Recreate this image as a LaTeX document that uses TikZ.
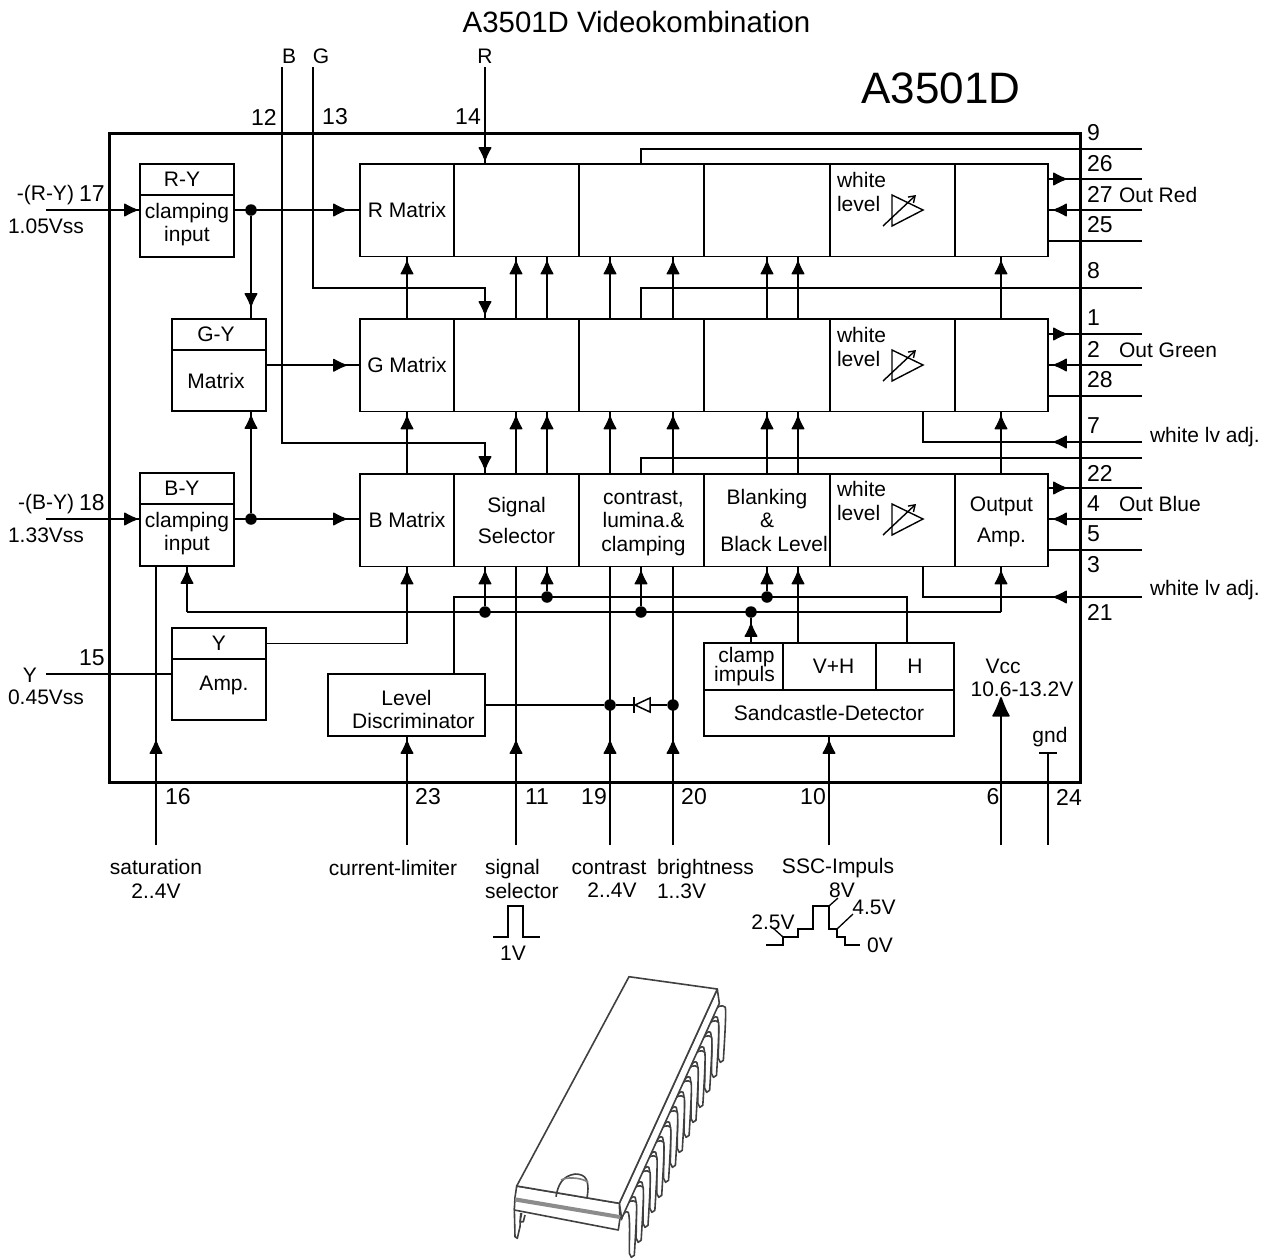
\documentclass[tikz,border=0pt]{standalone}
\usepackage{fontspec}
\setmainfont{Liberation Sans}
\usetikzlibrary{arrows.meta,decorations.markings}
\newcommand{\lab}{\fontsize{21}{23.5}\selectfont}
\tikzset{
    sig/.style={line width=1.8pt},
    flow/.style={postaction={decorate,decoration={markings,mark=at position #1 with {\arrow{Latex[round,length=15pt,width=14pt,line width=1pt]}}}}},
    cell/.style={draw,line width=1.8pt,anchor=north west,inner sep=0pt,outer sep=0pt,minimum height=92.5pt,align=center,font=\lab},
    lbl/.style={inner sep=0pt,outer sep=0pt,align=center,font=\lab},
    pinno/.style={inner sep=0pt,outer sep=0pt,font=\fontsize{23}{25}\selectfont},
    dot/.style={circle,fill=black,inner sep=0pt,minimum size=11.5pt},
    wave/.style={line width=1.7pt},
    chip/.style={line width=1.6pt,draw=black!75,line join=round}
}
\begin{document}
\begin{tikzpicture}[x=1pt,y=-1pt]
        \useasboundingbox (0,0) rectangle (1269,1259);

        % Title
        \node[lbl,font=\fontsize{29.4}{32}\selectfont] (title) at (636.5,22) {A3501D Videokombination};
        \node[lbl,font=\fontsize{44}{48}\selectfont] (icname) at (941,88) {A3501D};

        % IC outline
        \node[draw,line width=3pt,anchor=north west,inner sep=0pt,outer sep=0pt,minimum width=971pt,minimum height=649pt] (ic) at (109,133) {};

        % Matrix rows
        \foreach \row/\letter/\ty in {r/R/164,g/G/319} {
            \node[cell,minimum width=94pt] (\row mat) at (360,\ty) {\letter{} Matrix};
            \node[cell,minimum width=125pt] (\row sel) at (\row mat.north east) {};
            \node[cell,minimum width=125pt] (\row con) at (\row sel.north east) {};
            \node[cell,minimum width=126pt] (\row bla) at (\row con.north east) {};
            \node[cell,minimum width=125pt] (\row wht) at (\row bla.north east) {};
            \node[cell,minimum width=93pt] (\row out) at (\row wht.north east) {};
        }
        \node[cell,minimum width=94pt] (bmat) at (360,474) {B Matrix};
        \node[cell,minimum width=125pt] (bsel) at (bmat.north east) {Signal\\[7pt]Selector};
        \node[cell,minimum width=125pt,text height=66pt] (bcon) at (bsel.north east) {\hspace*{4pt}contrast,\\\hspace*{4pt}lumina.\&\\\hspace*{4pt}clamping};
        \node[cell,minimum width=126pt] (bbla) at (bcon.north east) {Blanking\\\&\\\hspace*{14pt}Black Level};
        \node[cell,minimum width=125pt] (bwht) at (bbla.north east) {};
        \node[cell,minimum width=93pt,text height=49pt] (bout) at (bwht.north east) {Output\\[8pt]Amp.};

        \node[lbl,anchor=west,align=left] (rwlab) at (837,192) {white\\level};
        \node[lbl,anchor=west,align=left] (gwlab) at (837,347) {white\\level};
        \node[lbl,anchor=west,align=left] (bwlab) at (837,501) {white\\level};

        % White level amplifiers
        \foreach \dy in {0,155,309} {
            \draw[line width=1.4pt,shift={(0,\dy)}] (892,195) -- (923,210) -- (892,226) -- cycle;
            \draw[line width=1.4pt,shift={(0,\dy)},-{Straight Barb[length=6pt,width=8pt]}] (883,226) -- (916,195);
        }

        % Colour difference blocks
        \node[cell,minimum width=94pt,minimum height=31pt] (ryhead) at (140,164) {R-Y\hspace*{10pt}};
        \node[cell,minimum width=94pt,minimum height=62pt,text depth=7pt] (rybody) at (ryhead.south west) {clamping\\input};
        \node[cell,minimum width=94pt,minimum height=31pt] (gyhead) at (172,319) {G-Y\hspace*{6pt}};
        \node[cell,minimum width=94pt,minimum height=61pt] (gybody) at (gyhead.south west) {Matrix\hspace*{6pt}};
        \node[cell,minimum width=94pt,minimum height=31pt] (byhead) at (140,473) {B-Y\hspace*{10pt}};
        \node[cell,minimum width=94pt,minimum height=62pt,text depth=7pt] (bybody) at (byhead.south west) {clamping\\input};
        \node[cell,minimum width=94pt,minimum height=31pt] (yhead) at (172,628) {Y};
        \node[cell,minimum width=94pt,minimum height=61pt,text depth=12pt] (ybody) at (yhead.south west) {\hspace*{10pt}Amp.};

        % Lower blocks
        \node[cell,minimum width=157pt,minimum height=62pt,text height=48pt] (ldisc) at (328,674) {Level\\\hspace*{14pt}Discriminator};
        \node[cell,minimum width=79pt,minimum height=47pt] (clamp) at (704,643) {\hspace*{6pt}clamp\\[-5pt]\hspace*{2pt}impuls};
        \node[cell,minimum width=93pt,minimum height=47pt] (vh) at (clamp.north east) {\hspace*{8pt}V+H};
        \node[cell,minimum width=78pt,minimum height=47pt] (hblk) at (vh.north east) {H};
        \node[cell,minimum width=250pt,minimum height=46pt] (sand) at (clamp.south west) {Sandcastle-Detector};

        % Columns and bus points
        \foreach \cx in {407,516,547,610,673,767,798,1001} {
            \coordinate (c\cx) at (\cx,0);
        }
        \coordinate (busa) at (187,612);
        \coordinate (busb) at (1001,612);
        \coordinate (busc) at (454,597);
        \coordinate (busd) at (907,597);
        \node[dot] (d251r) at (251,210) {};
        \node[dot] (d251b) at (251,519) {};
        \node[dot] (d485) at (485,612) {};
        \node[dot] (d641) at (641,612) {};
        \node[dot] (d751) at (751,612) {};
        \node[dot] (d547) at (547,597) {};
        \node[dot] (d767) at (767,597) {};
        \node[dot] (d610) at (610,705) {};
        \node[dot] (d673) at (673,705) {};

        % Free pin ends
        \coordinate (pinr) at (485,67);
        \coordinate (ping) at (313,67);
        \coordinate (pinb) at (282,67);
        \coordinate (pin17) at (46,210);
        \coordinate (pin18) at (46,519);
        \coordinate (pin15) at (46,674);
        \coordinate (pin16) at (156,845);
        \coordinate (pin23) at (407,845);
        \coordinate (pin11) at (516,845);
        \coordinate (pin19) at (610,845);
        \coordinate (pin20) at (673,845);
        \coordinate (pin10) at (829,845);
        \coordinate (pin6) at (1001,845);
        \coordinate (pin24) at (1048,845);
        \coordinate (gndtop) at (1048,752);

        % Vertical links between the rows
        \foreach \cx in {407,516,547,610,673,767,798,1001} {
            \draw[sig,flow=-4pt] (c\cx |- gmat.north) -- (c\cx |- rmat.south);
            \draw[sig,flow=-4pt] (c\cx |- bmat.north) -- (c\cx |- gmat.south);
        }

        % RGB inputs
        \draw[sig,flow=-3pt] (pinr) -- (pinr |- rsel.north);
        \draw[sig,flow=-4pt] (ping) -- (313,288) -- (485,288) -- (485,319);
        \draw[sig,flow=-4pt] (pinb) -- (282,443) -- (485,443) -- (485,474);

        % Colour difference paths
        \draw[sig,flow=-2pt] (pin17) -- (pin17 -| rybody.west);
        \draw[sig,flow=-2pt] (pin18) -- (pin18 -| bybody.west);
        \draw[sig,flow=-13pt] (d251r -| rybody.east) -- (d251r -| rmat.west);
        \draw[sig,flow=-13pt] (d251b -| bybody.east) -- (d251b -| bmat.west);
        \draw[sig,flow=-13pt] (gybody.east |- gmat.west) -- (gmat.west);
        \draw[sig,flow=-12pt] (d251r) -- (d251r |- gyhead.north);
        \draw[sig,flow=-4pt] (d251b) -- (d251b |- gybody.south);
        \draw[sig] (pin15) -- (pin15 -| ybody.west);
        \draw[sig,flow=-4pt] (yhead.east) -- (c407 |- yhead.east) -- (c407 |- bmat.south);

        % Bus lines under the B row
        \draw[sig] (busa) -- (busb);
        \draw[sig,flow=-4pt] (busa) -- (busa |- bybody.south);
        \draw[sig,flow=-4pt] (busb) -- (busb |- bout.south);
        \draw[sig] (busc |- ldisc.north) -- (busc) -- (busd) -- (busd |- hblk.north);
        \draw[sig,flow=-4pt] (d485) -- (d485 |- bsel.south);
        \draw[sig,flow=-4pt] (d547) -- (d547 |- bsel.south);
        \draw[sig,flow=-4pt] (d641) -- (d641 |- bcon.south);
        \draw[sig,flow=-4pt] (d767) -- (d767 |- bbla.south);
        \draw[sig,flow=-4pt] (c798 |- vh.north) -- (c798 |- bbla.south);
        \draw[sig,flow=20pt] (d751 |- clamp.north) -- (d751);

        % Inputs from below
        \draw[sig,flow=105pt] (pin16) -- (pin16 |- bybody.south);
        \draw[sig,flow=-4pt] (pin23) -- (pin23 |- ldisc.south);
        \draw[sig,flow=105pt] (pin11) -- (pin11 |- bsel.south);
        \draw[sig,flow=105pt] (pin19) -- (pin19 |- bcon.south);
        \draw[sig,flow=105pt] (pin20) -- (pin20 |- bcon.south);
        \draw[sig,flow=-4pt] (pin10) -- (pin10 |- sand.south);
        \node[lbl] (vcc) at (1022,678) {Vcc\hspace*{38pt}\\10.6-13.2V};
        \draw[sig,-{Latex[round,length=22pt,width=19pt]}] (pin6) -- (pin6 |- vcc.south);
        \draw[sig,-{Bar[width=18pt]}] (pin24) -- (gndtop);
        \node[lbl] (gnd) at (1050,737) {gnd};

        % Level discriminator and diode
        \draw[sig] (ldisc.east |- d610) -- (d610) -- (d673);
        \draw[line width=1.5pt,fill=white] (650,698) -- (635,705) -- (650,712) -- cycle;
        \draw[line width=1.8pt] (634,697) -- (634,713);

        % Outputs on the right
        \draw[sig] (641,164) -- (641,149) -- (1142,149);
        \draw[sig] (641,319) -- (641,288) -- (1142,288);
        \draw[sig] (641,474) -- (641,458) -- (1142,458);
        \foreach \row/\ya/\yb/\yc in {r/179/210/241,g/334/365/396,b/488/519/550} {
            \draw[sig,flow=19pt] (\row out.east |- 0,\ya) -- (1142,\ya);
            \draw[sig,flow=-5pt] (1142,\yb) -- (\row out.east |- 0,\yb);
            \draw[sig] (\row out.east |- 0,\yc) -- (1142,\yc);
        }
        \draw[sig,flow=89pt] (1142,442) -- (923,442) -- (923,411);
        \draw[sig,flow=89pt] (1142,597) -- (923,597) -- (923,566);

        % Pin numbers on the right
        \foreach \n/\py in {9/133,26/164,27/194,25/225,8/271,1/318,2/349,28/380,7/426,22/473,4/504,5/534,3/565,21/612} {
            \node[pinno,anchor=west] (no\n) at (1087,\py) {\n};
        }
        % Other pin numbers
        \foreach \n/\px/\py in {12/264/117,13/335/117,14/468/117,15/92/658,16/178/797,23/428/797,11/537/797,19/594/797,20/694/797,10/813/797,6/993/797,24/1069/797,17/92/194,18/92/503} {
            \node[pinno] (no\n) at (\px,\py) {\n};
        }

        % Labels outside the IC
        \node[lbl] (lblb) at (289,56) {B};
        \node[lbl] (lblg) at (321,56) {G};
        \node[lbl] (lblr) at (485,56) {R};
        \node[lbl,anchor=east] (lblry) at (74,195) {-(R-Y)};
        \node[lbl] (lblryv) at (46,226) {1.05Vss};
        \node[lbl,anchor=east] (lblby) at (74,504) {-(B-Y)};
        \node[lbl] (lblbyv) at (46,535) {1.33Vss};
        \node[lbl] (lbly) at (30,675) {Y};
        \node[lbl] (lblyv) at (46,697) {0.45Vss};
        \node[lbl,anchor=west] (outr) at (1119,195) {Out Red};
        \node[lbl,anchor=west] (outg) at (1119,350) {Out Green};
        \node[lbl,anchor=west] (outb) at (1119,504) {Out Blue};
        \node[lbl,anchor=west] (adjg) at (1150,437) {white lv adj.};
        \node[lbl,anchor=west] (adjb) at (1150,590) {white lv adj.};
        \node[lbl] (lblsat) at (156,879) {saturation\\2..4V};
        \node[lbl] (lblcur) at (393,868) {current-limiter};
        \node[lbl,anchor=west,align=left] (lblsel) at (485,879) {signal\\selector};
        \node[lbl] (lblcon) at (609,879) {contrast\\\hspace*{6pt}2..4V};
        \node[lbl,anchor=west,align=left] (lblbri) at (657,879) {brightness\\1..3V};
        \node[lbl] (lblssc) at (838,868) {SSC-Impuls};
        \node[lbl] (lbl1v) at (513,953) {1V};
        \node[lbl] (lbl8v) at (842,890) {8V};
        \node[lbl] (lbl45v) at (874,907) {4.5V};
        \node[lbl] (lbl25v) at (773,922) {2.5V};
        \node[lbl] (lbl0v) at (880,945) {0V};

        % Waveforms
        \draw[wave] (493,937) -- (508,937) -- (508,906) -- (523,906) -- (523,937) -- (540,937);
        \draw[wave] (766,945) -- (783,945) -- (783,937) -- (798,937) -- (798,929) -- (813,929) -- (813,906) -- (829,906) -- (829,929) -- (837,929) -- (837,937) -- (845,937) -- (845,945) -- (860,945);
        \draw[line width=1.3pt] (829,906) -- (838,898);
        \draw[line width=1.3pt] (837,929) -- (853,914);
        \draw[line width=1.3pt] (783,937) -- (773,928);

        % DIP package: pins
        \foreach \k in {13,12,...,0} {
            \draw[chip,fill=white,shift={(624.3+6.85*\k,1208.3-15*\k)}] (0,0) .. controls (3,-8) and (9,-9) .. (12,-6) .. controls (13,0) and (11,30) .. (10,47) -- (7,49) -- (5,45) .. controls (5,30) and (6,10) .. (4,4) .. controls (2,2) and (-2,5) .. (-3,12);
        }
        \draw[chip,fill=white] (514.3,1208) -- (515,1236.7) -- (517.3,1238.3) -- (520,1226.7) -- (520.7,1213);
        \draw[chip,fill=white] (521.7,1213) -- (520,1221.7) -- (523.3,1221.7) -- (525,1215);

        % DIP package: body
        \draw[chip,fill=white] (619.3,1203.3) -- (717.3,989) -- (719.3,1003.3) -- (621.7,1218.3) -- cycle;
        \draw[chip,fill=white] (516.7,1186) -- (619.3,1203.3) -- (620,1218.3) -- (618.3,1230) -- (523.3,1211.7) -- (514.3,1210) -- (515,1197.3) -- cycle;
        \fill[black!45] (515,1197.3) -- (620,1215) -- (620,1219) -- (515,1201.5) -- cycle;
        \draw[chip,fill=white] (516.7,1186) -- (629,976.7) -- (717.3,989) -- (619.3,1203.3) -- cycle;
        \draw[chip] (556,1196.7) .. controls (558,1185) and (562,1176) .. (575,1174) .. controls (586,1174) and (590,1180) .. (587,1198);
        \draw[chip,draw=black!50] (561,1180) .. controls (566,1177) and (580,1177) .. (588,1182);
\end{tikzpicture}
\end{document}
